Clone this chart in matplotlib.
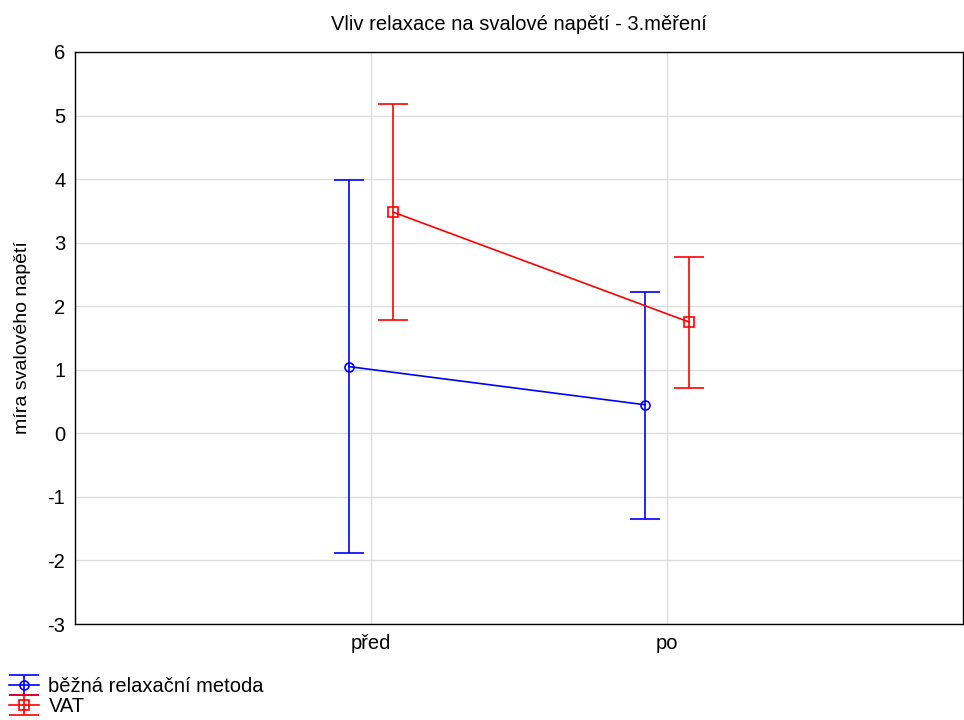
import numpy as np
import matplotlib.pyplot as plt

plt.rcParams['font.family'] = ['Liberation Sans', 'DejaVu Sans']
plt.rcParams['axes.unicode_minus'] = False

categories = ["před", "po"]
groups = ["běžná relaxační metoda", "VAT"]
means_bezna = [1.05, 0.45]
upper_bezna = [3.99, 2.23]
lower_bezna = [-1.89, -1.34]
means_vat = [3.48, 1.75]
upper_vat = [5.18, 2.78]
lower_vat = [1.79, 0.72]

fig = plt.figure(figsize=(9.64, 7.2), dpi=100)
ax = fig.add_axes([0.0778, 0.1333, 0.9212, 0.7945])

x = np.arange(len(categories))
series = [
    (means_bezna, lower_bezna, upper_bezna, "#0000ff", "o", -0.075),
    (means_vat, lower_vat, upper_vat, "#ff0000", "s", 0.075),
]
for (m, lo, hi, col, mk, off), name in zip(series, groups):
    m = np.array(m)
    err = [m - np.array(lo), np.array(hi) - m]
    ax.errorbar(x + off, m, yerr=err, color=col, marker=mk, markersize=6.5,
                markerfacecolor="none", markeredgewidth=1.2, linewidth=1.2,
                capsize=11, elinewidth=1.2, capthick=1.2, label=name)

ax.set_xlim(-1, 2)
ax.set_ylim(-3, 6)
ax.set_xticks(x)
ax.set_xticklabels(categories)
ax.set_yticks(range(-3, 7))
ax.tick_params(length=0, labelsize=14.5, pad=7)
ax.grid(True, color="#dddddd", linewidth=1)
ax.set_axisbelow(True)
for s in ax.spines.values():
    s.set_color("black")
    s.set_linewidth(1)

ax.set_ylabel("míra svalového napětí", fontsize=14, labelpad=12)
ax.set_title("Vliv relaxace na svalové napětí - 3.měření", fontsize=14.5, pad=16)

fig.legend(loc="lower left", bbox_to_anchor=(-0.003, -0.011), frameon=False,
           fontsize=14.5, handlelength=1.5, handletextpad=0.45,
           labelspacing=0.05, borderaxespad=0.2)

fig.savefig("out.png", dpi=100)
